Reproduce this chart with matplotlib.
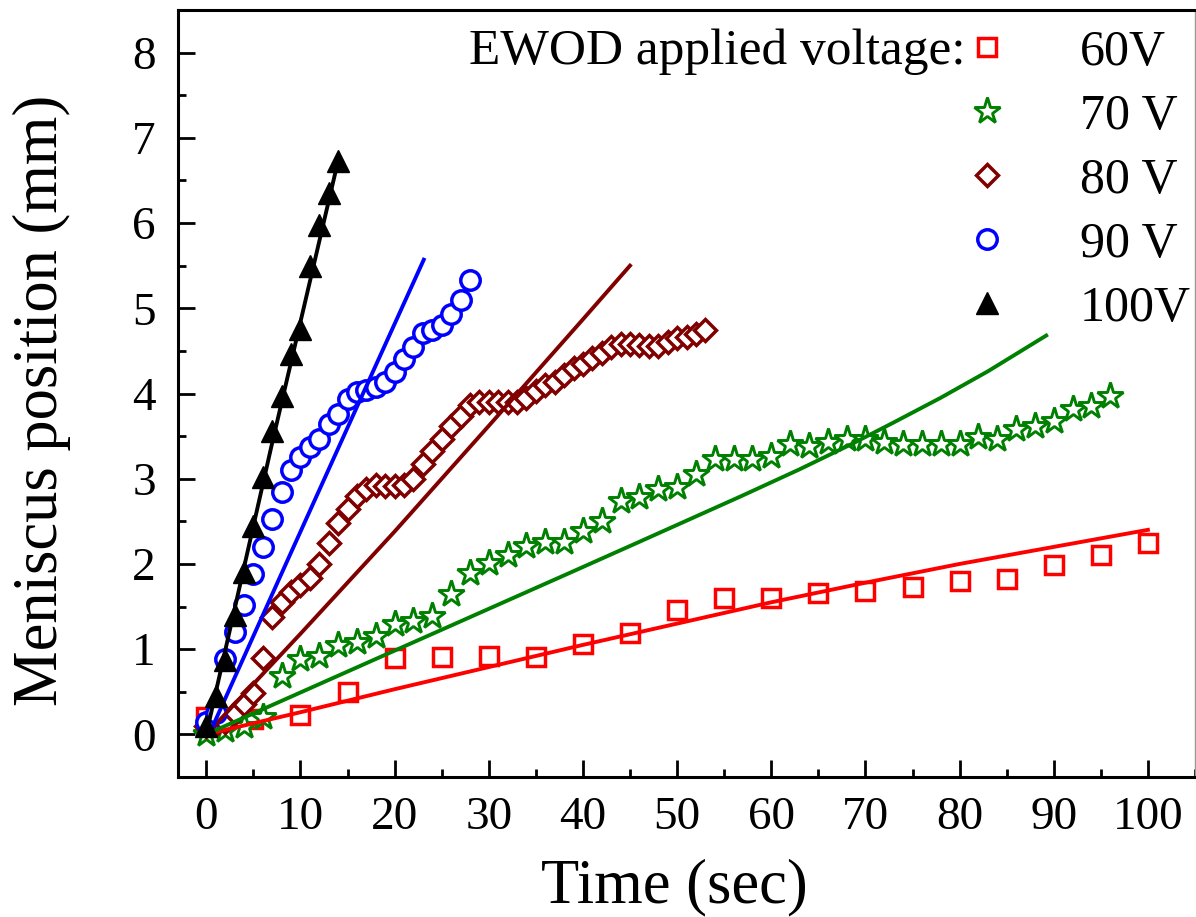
import matplotlib
matplotlib.use("Agg")
import matplotlib.pyplot as plt
from matplotlib.ticker import MultipleLocator

plt.rcParams['font.family'] = ['Liberation Serif', 'DejaVu Serif']
plt.rcParams['mathtext.fontset'] = 'stix'

# ---------------- data ----------------
t60 = [0, 5, 10, 15, 20, 25, 30, 35, 40, 45, 50, 55, 60, 65, 70, 75, 80, 85, 90, 95, 100]
y60 = [0.2, 0.18, 0.23, 0.5, 0.9, 0.91, 0.92, 0.91, 1.06, 1.19, 1.46, 1.6, 1.6, 1.66, 1.68,
       1.73, 1.8, 1.82, 1.99, 2.1, 2.25]

t70 = [0, 2, 4, 6, 8, 10, 12, 14, 16, 18, 20, 22, 24, 26, 28, 30, 32, 34, 36, 38, 40, 42, 44,
       46, 48, 50, 52, 54, 56, 58, 60, 62, 64, 66, 68, 70, 72, 74, 76, 78, 80, 82, 84, 86, 88,
       90, 92, 94, 96]
y70 = [0.0, 0.05, 0.1, 0.2, 0.68, 0.88, 0.92, 1.05, 1.08, 1.16, 1.3, 1.33, 1.39, 1.65, 1.89,
       2.01, 2.1, 2.21, 2.26, 2.26, 2.39, 2.5, 2.74, 2.78, 2.88, 2.9, 3.06, 3.23, 3.23, 3.23,
       3.27, 3.41, 3.38, 3.43, 3.47, 3.47, 3.43, 3.41, 3.41, 3.41, 3.41, 3.49, 3.47, 3.58, 3.62,
       3.68, 3.82, 3.85, 3.97]

t80 = list(range(0, 54))
y80 = [0.1, 0.12, 0.15, 0.25, 0.36, 0.48, 0.9, 1.38, 1.55, 1.67, 1.75, 1.84, 2.0, 2.25, 2.48,
       2.65, 2.8, 2.88, 2.93, 2.92, 2.92, 2.93, 3.0, 3.17, 3.33, 3.47, 3.62, 3.74, 3.86, 3.9,
       3.9, 3.9, 3.9, 3.9, 3.95, 4.03, 4.1, 4.13, 4.22, 4.3, 4.35, 4.42, 4.48, 4.55, 4.58, 4.58,
       4.57, 4.56, 4.56, 4.6, 4.65, 4.66, 4.7, 4.75]

t90 = list(range(0, 29))
y90 = [0.15, 0.25, 0.88, 1.2, 1.52, 1.88, 2.2, 2.53, 2.85, 3.1, 3.25, 3.37, 3.47, 3.64, 3.76,
       3.93, 4.02, 4.04, 4.08, 4.13, 4.25, 4.41, 4.55, 4.71, 4.75, 4.8, 4.93, 5.1, 5.33]

t100 = list(range(0, 15))
y100 = [0.1, 0.45, 0.87, 1.4, 1.9, 2.45, 3.02, 3.56, 3.97, 4.46, 4.76, 5.5, 5.98, 6.35, 6.73]

# fitted model curves
fit60_t = [0, 10, 20, 30, 40, 50, 60, 70, 80, 90, 100]
fit60_y = [0, 0.26, 0.53, 0.79, 1.05, 1.3, 1.55, 1.78, 2.0, 2.2, 2.4]
fit70_t = [0, 17.5, 38.7, 46, 56.7, 63, 68.6, 73, 78, 83, 89.2]
fit70_y = [0, 0.86, 1.9, 2.26, 2.79, 3.11, 3.41, 3.66, 3.95, 4.26, 4.68]
fit80_t = [0, 10, 20, 30, 40, 45]
fit80_y = [0, 1.18, 2.38, 3.62, 4.87, 5.5]
fit90_t = [0.3, 8.7, 16.4, 23.1]
fit90_y = [0, 2.06, 3.94, 5.57]
fit100_t = [0, 7, 14]
fit100_y = [0, 3.42, 6.73]

labels = ['60V', '70 V', '80 V', '90 V', '100V']
colors = ['#ff0000', '#008000', '#800000', '#0000ff', '#000000']

# ---------------- figure ----------------
fig = plt.figure(figsize=(11.96, 9.17), dpi=100)
ax = fig.add_axes([178/1196, 140/917, 1017/1196, 767/917])

mew = 2.5
h60, = ax.plot(t60, y60, 's', ms=13, mew=mew, mfc='white', mec=colors[0], ls='none', zorder=2)
h70, = ax.plot(t70, y70, '*', ms=19.5, mew=2.1, mfc='white', mec=colors[1], ls='none', zorder=2)
h80, = ax.plot(t80, y80, 'D', ms=11, mew=mew, mfc='white', mec=colors[2], ls='none', zorder=2)
h90, = ax.plot(t90, y90, 'o', ms=14, mew=mew, mfc='white', mec=colors[3], ls='none', zorder=2)

lw = 2.8
ax.plot(fit60_t, fit60_y, '-', color=colors[0], lw=lw, zorder=3)
ax.plot(fit70_t, fit70_y, '-', color=colors[1], lw=lw, zorder=3)
ax.plot(fit80_t, fit80_y, '-', color=colors[2], lw=lw, zorder=3)
ax.plot(fit90_t, fit90_y, '-', color=colors[3], lw=lw, zorder=3)

h100, = ax.plot(t100, y100, '^', ms=16.5, mfc='black', mec='black', ls='none', zorder=4)
ax.plot(fit100_t, fit100_y, '-', color='black', lw=lw, zorder=5)

ax.set_xlim(-3, 105)
ax.set_ylim(-0.5, 8.5)
ax.xaxis.set_major_locator(MultipleLocator(10))
ax.xaxis.set_minor_locator(MultipleLocator(5))
ax.yaxis.set_major_locator(MultipleLocator(1))
ax.yaxis.set_minor_locator(MultipleLocator(0.5))
ax.tick_params(which='both', direction='in', top=False, right=False, width=2, labelsize=34)
ax.tick_params(which='major', length=12)
ax.tick_params(which='minor', length=6)
ax.tick_params(axis='x', which='major', pad=14)
ax.tick_params(axis='y', which='major', pad=16)

for s in ['left', 'bottom', 'top']:
    ax.spines[s].set_linewidth(2.2)
ax.spines['right'].set_linewidth(1)
ax.spines['right'].set_color('#999999')

ax.set_xlabel('Time (sec)', fontsize=45, labelpad=14, x=0.488)
ax.set_ylabel('Meniscus position (mm)', fontsize=45, labelpad=44, y=0.4915)

leg = ax.legend([h60, h70, h80, h90, h100], labels, loc='upper left',
                bbox_to_anchor=(0.771, 0.975), frameon=False, fontsize=36,
                handlelength=1.0, handletextpad=1.36, labelspacing=0.35,
                borderpad=0, borderaxespad=0, numpoints=1)
ax.text(0.774, 0.929, 'EWOD applied voltage:', transform=ax.transAxes,
        ha='right', va='baseline', fontsize=37)

fig.savefig('out.png', dpi=100)
